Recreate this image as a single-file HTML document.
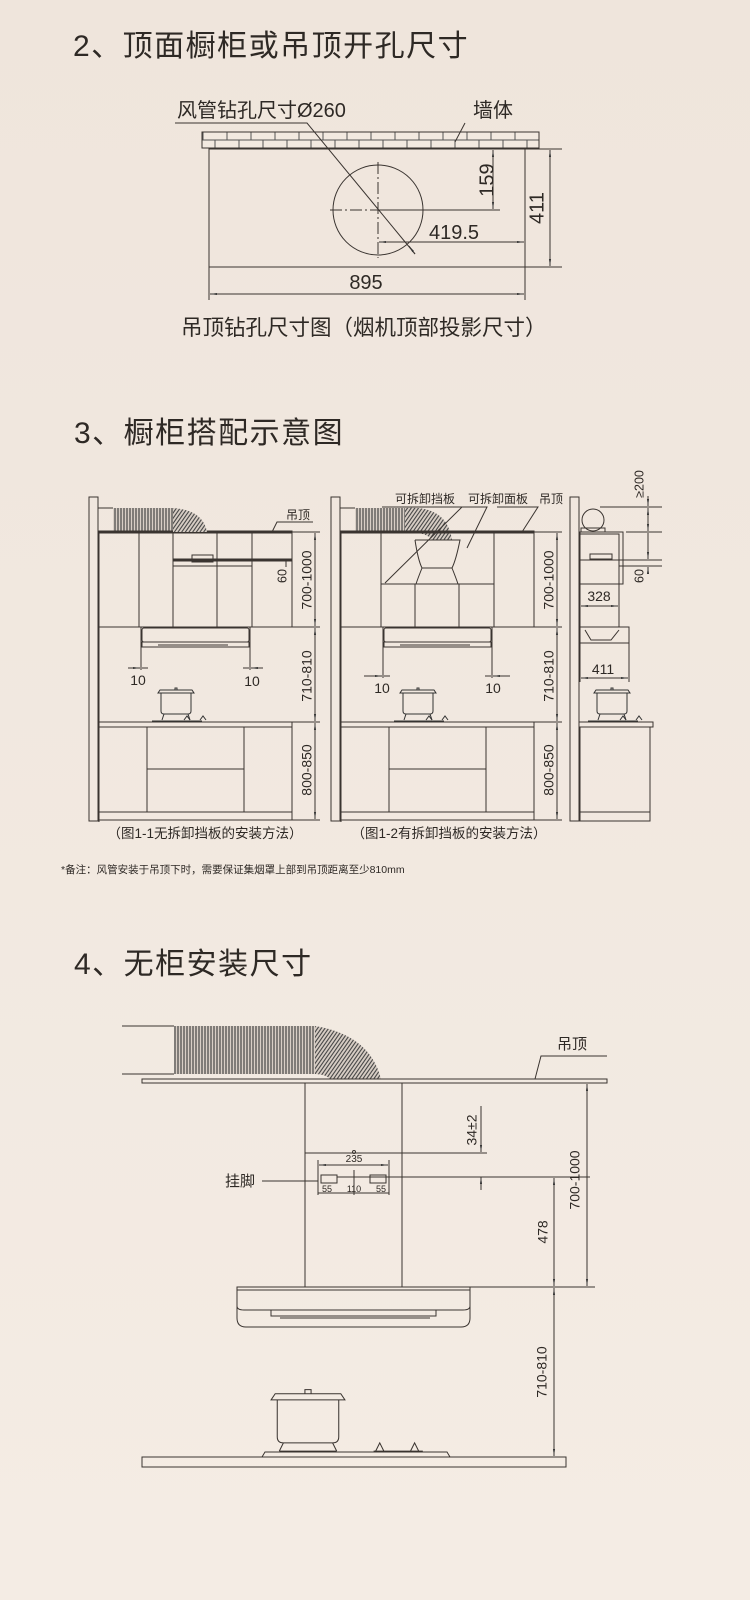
<!DOCTYPE html>
<html><head><meta charset="utf-8"><style>
html,body{margin:0;padding:0;background:#f1e8e0;}
svg{display:block;}
text{font-family:"Liberation Sans","Noto Sans CJK SC",sans-serif;fill:#2e2925;}
.t{font-size:30px;letter-spacing:1.5px;}
</style></head><body>
<svg width="750" height="1600" viewBox="0 0 750 1600" xmlns="http://www.w3.org/2000/svg">
<defs>
<linearGradient id="bg" x1="0" y1="0" x2="0" y2="1"><stop offset="0" stop-color="#efe5dc"/><stop offset="1" stop-color="#f4ece4"/></linearGradient>
<marker id="a" viewBox="0 0 10 10" refX="10" refY="5" markerWidth="7" markerHeight="7" orient="auto-start-reverse"><path d="M0,3.5 L10,5 L0,6.5z" fill="#333"/></marker>
<pattern id="brick" x="202" y="132" width="24" height="16" patternUnits="userSpaceOnUse"><rect width="24" height="16" fill="#f2e9e0"/><path d="M0,0H24M0,8H24M0,16H24M1,0V8M13,8V16" stroke="#555" stroke-width="1" fill="none"/></pattern>
<pattern id="cor" x="0" y="0" width="3" height="10" patternUnits="userSpaceOnUse"><rect width="3" height="10" fill="#d9cfc6"/><line x1="1" y1="0" x2="1" y2="10" stroke="#444" stroke-width="1.2"/></pattern>
<pattern id="cord" width="3" height="10" patternUnits="userSpaceOnUse" patternTransform="rotate(35)"><rect width="3" height="10" fill="#d9cfc6"/><line x1="1" y1="0" x2="1" y2="10" stroke="#444" stroke-width="1.1"/></pattern>
<g id="pot"><path d="M-16,-26 h32 l2,3 h-36z M-1,-28 h2 v2 h-2z" fill="none" stroke="#333" stroke-width="1"/><path d="M-15,-23 v18 q0,3 3,3 h24 q3,0 3,-3 v-18" fill="none" stroke="#333" stroke-width="1"/><path d="M-12,-2 l-2,6 M12,-2 l2,6 M-24,5 h50" stroke="#333" fill="none" stroke-width="1"/><path d="M8,4 l3,-4 l3,4 M24,4 l3,-4 l3,4" stroke="#333" fill="none" stroke-width="1"/></g>
</defs>
<rect width="750" height="1600" fill="url(#bg)"/>

<!-- SECTION 2 -->
<text class="t" x="73" y="56">2、顶面橱柜或吊顶开孔尺寸</text>
<g stroke="#3a3430" fill="none" stroke-width="1">
<rect x="202" y="132" width="337" height="16" fill="url(#brick)"/>
<rect x="209" y="149" width="316" height="118"/>
<circle cx="378" cy="210" r="45"/>
<path d="M330,210H425M378,162V258" stroke-dasharray="12,3,2,3"/>
<path d="M175,123H307L415,254" />
<path d="M415,254L409,246" marker-end="url(#a)"/>
<path d="M465,123L455,142"/>
<path d="M378,210H500M525,149H562M525,267H562"/>
<path d="M493,150V209" marker-start="url(#a)" marker-end="url(#a)"/>
<path d="M550,150V266" marker-start="url(#a)" marker-end="url(#a)"/>
<path d="M379,242H524" marker-start="url(#a)" marker-end="url(#a)"/>
<path d="M209,267V300M525,267V300"/>
<path d="M210,294H524" marker-start="url(#a)" marker-end="url(#a)"/>
</g>
<text x="177" y="117" font-size="20">风管钻孔尺寸Ø260</text>
<text x="473" y="117" font-size="20">墙体</text>
<text x="0" y="0" font-size="20" transform="translate(488,180) rotate(-90)" text-anchor="middle" dominant-baseline="middle">159</text>
<text x="0" y="0" font-size="20" transform="translate(538,208) rotate(-90)" text-anchor="middle" dominant-baseline="middle">411</text>
<text x="454" y="239" font-size="20" text-anchor="middle">419.5</text>
<text x="366" y="289" font-size="20" text-anchor="middle">895</text>
<text x="181" y="335" font-size="21.5">吊顶钻孔尺寸图（烟机顶部投影尺寸）</text>

<!-- SECTION 3 -->
<text class="t" x="74" y="443">3、橱柜搭配示意图</text>
<g id="base" stroke="#3a3430" fill="none" stroke-width="1">
<rect x="89" y="497" width="9" height="324"/>
<path d="M98,508H113M98,532H113"/>
<rect x="113" y="508" width="60" height="24" fill="url(#cor)" stroke="none"/>
<rect x="99" y="531" width="193" height="2" fill="#3a3430"/>
<path d="M99,533V822M292,533V627M99,627H292"/>
<rect x="142" y="628" width="107" height="14" rx="2"/>
<rect x="142" y="642" width="107" height="5"/>
<path d="M158,645H228"/>
<rect x="99" y="722" width="193" height="5"/>
<rect x="99" y="727" width="193" height="85"/>
<path d="M147,727V812M244,727V812M147,769H244"/>
<rect x="99" y="812" width="193" height="8"/>
<path d="M292,532H320M292,627H320M292,722H320M292,820H320"/>
<path d="M315,533V626" marker-start="url(#a)" marker-end="url(#a)"/>
<path d="M315,628V721" marker-start="url(#a)" marker-end="url(#a)"/>
<path d="M315,723V819" marker-start="url(#a)" marker-end="url(#a)"/>
<path d="M272,532L277,522H313"/>
<use href="#pot" x="176" y="716"/>
</g>
<g stroke="#3a3430" fill="none" stroke-width="1">
<path d="M173,508 Q203,510 207,532 L173,532Z" fill="url(#cord)" stroke="none"/>
<path d="M139,533V627M173,533V627M217,533V627M252,533V627"/>
<rect x="173" y="559" width="119" height="2" fill="#3a3430"/>
<path d="M173,566H252"/>
<rect x="192" y="555" width="21" height="7"/>
<path d="M286,561V567"/>
<path d="M141,627V670M250,627V670"/>
<path d="M128,668H140" marker-end="url(#a)"/><path d="M142,668H148"/>
<path d="M263,668H251" marker-end="url(#a)"/><path d="M249,668H243"/>
</g>
<text font-size="12.5" text-anchor="middle" dominant-baseline="middle" transform="translate(283,576) rotate(-90)">60</text>
<text x="298" y="519" font-size="12" text-anchor="middle">吊顶</text>
<text x="138" y="685" font-size="14" text-anchor="middle">10</text>
<text x="252" y="686" font-size="14" text-anchor="middle">10</text>
<g font-size="14" text-anchor="middle" dominant-baseline="middle">
<text transform="translate(308,580) rotate(-90)">700-1000</text>
<text transform="translate(308,676) rotate(-90)">710-810</text>
<text transform="translate(308,770) rotate(-90)">800-850</text>
<text transform="translate(550,580) rotate(-90)">700-1000</text>
<text transform="translate(550,676) rotate(-90)">710-810</text>
<text transform="translate(550,770) rotate(-90)">800-850</text>
</g>
<text x="205" y="838" font-size="13.5" text-anchor="middle">（图1-1无拆卸挡板的安装方法）</text>
<text x="449" y="838" font-size="13.5" text-anchor="middle">（图1-2有拆卸挡板的安装方法）</text>

<!-- diagram 2 -->
<g transform="translate(242,0)">
<g stroke="#3a3430" fill="none" stroke-width="1">
<rect x="89" y="497" width="9" height="324"/>
<path d="M98,508H113M98,532H113"/>
<rect x="113" y="508" width="50" height="24" fill="url(#cor)" stroke="none"/>
<path d="M163,508 Q205,505 210,540 L190,540 Q185,532 163,532Z" fill="url(#cord)" stroke="none"/>
<rect x="99" y="531" width="193" height="2" fill="#3a3430"/>
<path d="M99,533V822M292,533V627M99,627H292"/>
<path d="M139,533V627M173,584V627M217,584V627M252,533V627M139,584H252"/>
<path d="M173,540H218 Q214,560 210,568 Q214,578 216,584 M173,540 Q176,560 180,568 Q176,578 174,584 M180,568H210"/>
<rect x="142" y="628" width="107" height="14" rx="2"/>
<rect x="142" y="642" width="107" height="5"/>
<path d="M158,645H228"/>
<path d="M141,627V678M250,627V678"/>
<path d="M122,676H140" marker-end="url(#a)"/><path d="M142,676H148"/>
<path d="M268,676H251" marker-end="url(#a)"/><path d="M249,676H243"/>
<rect x="99" y="722" width="193" height="5"/>
<rect x="99" y="727" width="193" height="85"/>
<path d="M147,727V812M244,727V812M147,769H244"/>
<rect x="99" y="812" width="193" height="8"/>
<path d="M292,532H320M292,627H320M292,722H320M292,820H320"/>
<path d="M315,533V626" marker-start="url(#a)" marker-end="url(#a)"/>
<path d="M315,628V721" marker-start="url(#a)" marker-end="url(#a)"/>
<path d="M315,723V819" marker-start="url(#a)" marker-end="url(#a)"/>
<path d="M143,583L220,507H140"/>
<path d="M225,548L245,507H195"/>
<path d="M280,532L296,507H255"/>
<use href="#pot" x="176" y="716"/>
</g>
<text x="183" y="503" font-size="12" text-anchor="middle">可拆卸挡板</text>
<text x="256" y="503" font-size="12" text-anchor="middle">可拆卸面板</text>
<text x="309" y="503" font-size="12" text-anchor="middle">吊顶</text>
<text x="140" y="693" font-size="14" text-anchor="middle">10</text>
<text x="251" y="693" font-size="14" text-anchor="middle">10</text>
</g>

<!-- diagram 3 -->
<g stroke="#3a3430" fill="none" stroke-width="1">
<rect x="570" y="497" width="9" height="324"/>
<circle cx="593" cy="520" r="11"/>
<rect x="581" y="528" width="24" height="4"/>
<rect x="580" y="532" width="43" height="52"/>
<path d="M580,534H619V627M580,560H619"/>
<rect x="590" y="554" width="22" height="5"/>
<path d="M580,584V627M580,627H629V643H580Z"/>
<path d="M585,630 l6,10 h20 l8,-10" />
<path d="M581,606H618" marker-start="url(#a)" marker-end="url(#a)"/>
<path d="M581,678H628" marker-start="url(#a)" marker-end="url(#a)"/>
<path d="M580,643V682M629,643V682"/>
<rect x="579" y="722" width="74" height="5"/>
<rect x="580" y="727" width="70" height="85"/>
<rect x="580" y="812" width="70" height="9"/>
<path d="M600,507H662M626,532H662M619,560H662M619,566H662"/>
<path d="M648,496V506" marker-end="url(#a)"/>
<path d="M648,508V531" marker-start="url(#a)" marker-end="url(#a)"/>
<path d="M648,533V559"/>
<path d="M648,552V559" marker-end="url(#a)"/>
<path d="M648,574V567" marker-end="url(#a)"/>
<use href="#pot" x="612" y="716"/>
</g>
<text x="599" y="601" font-size="14" text-anchor="middle">328</text>
<text x="603" y="674" font-size="14" text-anchor="middle">411</text>
<text font-size="12.5" text-anchor="middle" dominant-baseline="middle" transform="translate(640,484) rotate(-90)">≥200</text>
<text font-size="12.5" text-anchor="middle" dominant-baseline="middle" transform="translate(640,576) rotate(-90)">60</text>

<text x="61" y="873" font-size="10.5">*备注：风管安装于吊顶下时，需要保证集烟罩上部到吊顶距离至少810mm</text>

<!-- SECTION 4 -->
<text class="t" x="74" y="974">4、无柜安装尺寸</text>
<g stroke="#3a3430" fill="none" stroke-width="1">
<path d="M122,1026H174M122,1074H174"/>
<rect x="174" y="1026" width="141" height="48" fill="url(#cor)" stroke="none"/>
<path d="M315,1026 Q370,1035 381,1079 L330,1079 Q325,1074 315,1074Z" fill="url(#cord)" stroke="none"/>
<rect x="142" y="1079" width="465" height="4"/>
<path d="M535,1079L541,1056H607"/>
<rect x="305" y="1083" width="97" height="204"/>
<path d="M305,1153H487"/>
<circle cx="354" cy="1152" r="1.5"/>
<path d="M319,1165H388" marker-start="url(#a)" marker-end="url(#a)"/>
<path d="M318,1160V1195M389,1160V1195M354,1170V1195"/>
<rect x="321" y="1175" width="16" height="8"/><rect x="370" y="1175" width="16" height="8"/>
<path d="M318,1193H389"/>
<path d="M262,1181H318M337,1177H590"/>
<path d="M481,1106V1152" marker-end="url(#a)"/>
<path d="M481,1177V1190" marker-start="url(#a)"/>
<path d="M402,1083H595M470,1287H595"/>
<path d="M587,1084V1286" marker-start="url(#a)" marker-end="url(#a)"/>
<path d="M554,1178V1286" marker-start="url(#a)" marker-end="url(#a)"/>
<path d="M554,1288V1456" marker-start="url(#a)" marker-end="url(#a)"/>
<path d="M237,1287H470V1290H237Z"/>
<path d="M237,1290V1318 Q237,1327 246,1327 H461 Q470,1327 470,1318 V1290"/>
<path d="M237,1306 Q237,1310 244,1310 H463 Q470,1310 470,1306"/>
<path d="M271,1310V1316H436V1310M280,1318H430"/>
<rect x="142" y="1457" width="424" height="10"/>
<path d="M262,1457 l3,-5 H447 l3,5"/>
</g>
<g transform="translate(308,1447) scale(2.05)" stroke="#3a3430" fill="none" stroke-width="0.5">
<path d="M-16,-26 h32 l2,3 h-36z M-1.5,-28 h3 v2 h-3z"/>
<path d="M-15,-23 v18 q0,3 3,3 h24 q3,0 3,-3 v-18"/>
<path d="M-12,-2 l-2,4 M12,-2 l2,4 M-14,2 h28"/>
<path d="M33,2 l2,-4 l2,4 M50,2 l2,-4 l2,4 M32,2 h24"/>
</g>
<text x="557" y="1049" font-size="15">吊顶</text>
<text x="225" y="1186" font-size="15">挂脚</text>
<text x="354" y="1162" font-size="10" text-anchor="middle">235</text>
<text x="327" y="1192" font-size="9" text-anchor="middle">55</text>
<text x="354" y="1192" font-size="9" text-anchor="middle">110</text>
<text x="381" y="1192" font-size="9" text-anchor="middle">55</text>
<g font-size="14" text-anchor="middle" dominant-baseline="middle">
<text transform="translate(473,1130) rotate(-90)">34±2</text>
<text transform="translate(576,1180) rotate(-90)">700-1000</text>
<text transform="translate(544,1232) rotate(-90)">478</text>
<text transform="translate(543,1372) rotate(-90)">710-810</text>
</g>
</svg>
</body></html>
